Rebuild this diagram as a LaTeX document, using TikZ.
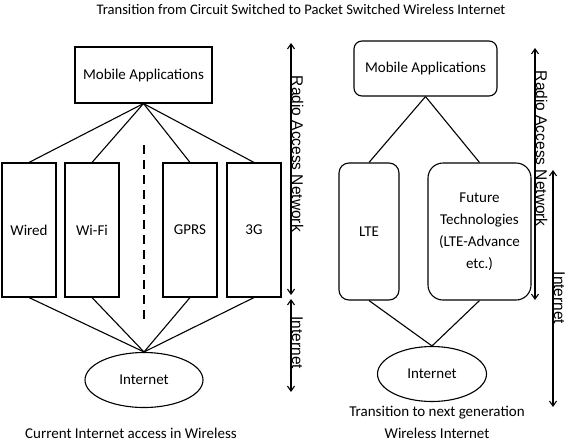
\documentclass[tikz,border=0pt]{standalone}
\usepackage{fontspec}
\setmainfont{Carlito}
\newfontfamily\arialfont{Liberation Sans}
\usetikzlibrary{arrows.meta, shapes.geometric}

\begin{document}
\begin{tikzpicture}[x=1pt, y=-1pt, line width=1.1pt, font=\fontsize{15}{22}\selectfont]
\tikzstyle{box}=[draw, inner sep=0pt, align=center]
\tikzstyle{netnode}=[draw, ellipse, inner sep=0pt]
\tikzstyle{side}=[rotate=-90, anchor=south, inner sep=0.5pt, font=\arialfont\fontsize{15.5}{15.5}\selectfont]
\tikzstyle{span}=[{Straight Barb[length=5pt,width=7pt]}-{Straight Barb[length=5pt,width=7pt]}]
\useasboundingbox (0,0) rectangle (567,442);

\node[font=\fontsize{14.6}{18}\selectfont] (title) at (301,9) {Transition from Circuit Switched to Packet Switched Wireless Internet};

% current access
\node[box, minimum width=137pt, minimum height=56pt] (apps) at (143.5,75) {Mobile Applications};
\node[box, minimum width=54pt, minimum height=134pt] (wired) at (29,230) {Wired};
\node[box, minimum width=54pt, minimum height=134pt] (wifi) at (92,230) {Wi-Fi};
\node[box, minimum width=54pt, minimum height=134pt] (gprs) at (190,230) {GPRS};
\node[box, minimum width=54pt, minimum height=134pt] (threeg) at (254,230) {3G};
\node[netnode, minimum width=118pt, minimum height=55pt] (net) at (144,380) {Internet};
\node[inner sep=0pt] (cap) at (131,433.5) {Current Internet access in Wireless};

\coordinate (dotsa) at (144,145);
\coordinate (dotsb) at (144,322);
\draw[dash pattern=on 9pt off 6pt] (dotsa) -- (dotsb);

\path 
(apps.south) edge (wired.north)
    edge (wifi.north)
    edge (gprs.north)
    edge (threeg.north)
(net.north) edge (wired.south)
    edge (wifi.south)
    edge (gprs.south)
    edge (threeg.south);

\coordinate (rana) at (291,43);
\coordinate (ranb) at (291,295);
\coordinate (ineta) at (291,299);
\coordinate (inetb) at (291,392);
\draw[span] (rana) -- (ranb) node[side, pos=.44] {Radio Access Network};
\draw[span] (ineta) -- (inetb) node[side, pos=.47] {Internet};

% next generation
\node[box, rounded corners=8pt, minimum width=143pt, minimum height=55pt] (apps2) at (425.5,68.5) {Mobile Applications};
\node[box, rounded corners=10pt, minimum width=60pt, minimum height=137pt] (lte) at (369,231.5) {LTE};
\node[box, rounded corners=15pt, minimum width=103pt, minimum height=137pt] (future) at (479.5,231.5) {Future\\Technologies\\(LTE-Advance\\etc.)};
\node[netnode, minimum width=109pt, minimum height=55pt] (net2) at (432,374) {Internet};
\node[align=center, inner sep=0pt] (cap2) at (437,422) {Transition to next generation\\Wireless Internet};

\path 
(apps2.south) edge (lte.north)
    edge (future.north)
(net2.north) edge (lte.south)
    edge (future.south);

\coordinate (ran2a) at (535,48);
\coordinate (ran2b) at (535,300);
\coordinate (inet2a) at (553,170);
\coordinate (inet2b) at (553,407);
\draw[span] (ran2a) -- (ran2b) node[side, pos=.40] {Radio Access Network};
\draw[span] (inet2a) -- (inet2b) node[side, pos=.54] {Internet};

\end{tikzpicture}
\end{document}
